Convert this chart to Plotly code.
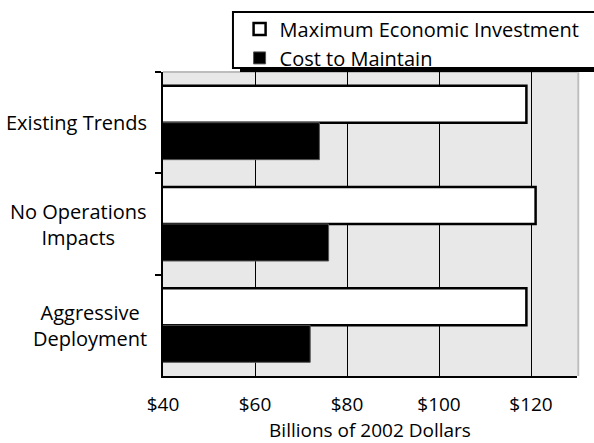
import plotly.graph_objects as go

# Scenario data (billions of 2002 dollars)
categories = ["Existing Trends", "No Operations Impacts", "Aggressive Deployment"]
category_labels = ["Existing Trends", "No Operations<br>Impacts", "Aggressive<br>Deployment"]
max_investment = [119, 121, 119]
cost_to_maintain = [74, 76, 72]
x_ticks = [40, 60, 80, 100, 120]
x_tick_text = ["$40", "$60", "$80", "$100", "$120"]

FONT = "Open Sans"
FS = 20
FS_AXIS = 19

fig = go.Figure()
fig.add_trace(go.Bar(
    y=categories, x=max_investment, orientation="h",
    name="Maximum Economic Investment",
    marker=dict(color="white", line=dict(color="black", width=2.5)),
))
fig.add_trace(go.Bar(
    y=categories, x=cost_to_maintain, orientation="h",
    name="Cost to Maintain",
    marker=dict(color="black", line=dict(color="#555555", width=1)),
))

# centred multi-line category labels
for cat, lab in zip(categories, category_labels):
    fig.add_annotation(
        x=0, xref="paper", y=cat, yref="y", text=lab,
        xanchor="right", yanchor="middle", align="center", xshift=-14,
        showarrow=False, font=dict(family=FONT, size=FS, color="black"),
    )

shapes = [
    # subtle frame on top and right of plot area
    dict(type="line", xref="paper", yref="paper", x0=0, x1=1, y0=1, y1=1,
         line=dict(color="#BDBDBD", width=2), layer="below"),
    dict(type="line", xref="paper", yref="paper", x0=1.003, x1=1.003, y0=0, y1=1,
         line=dict(color="#BDBDBD", width=2), layer="above"),
    # legend box shadow and frame
    dict(type="rect", xref="paper", yref="paper", x0=0.186, x1=1.3, y0=1.0, y1=1.184,
         fillcolor="black", line=dict(width=0), layer="above"),
    dict(type="rect", xref="paper", yref="paper", x0=0.169, x1=1.3, y0=1.013, y1=1.197,
         fillcolor="white", line=dict(color="black", width=2), layer="above"),
]

fig.update_layout(
    width=594, height=443,
    margin=dict(l=163, r=17, t=72, b=67, autoexpand=False),
    paper_bgcolor="white", plot_bgcolor="#E8E8E8",
    barmode="group", bargap=0.27, bargroupgap=0,
    font=dict(family=FONT, size=FS, color="black"),
    showlegend=True,
    legend=dict(
        x=0.185, y=1.206, xanchor="left", yanchor="top",
        bgcolor="rgba(0,0,0,0)", borderwidth=0,
        font=dict(family=FONT, size=FS, color="black"),
        tracegroupgap=0, itemwidth=30,
    ),
    shapes=shapes,
    xaxis=dict(
        range=[40, 130], tickmode="array", tickvals=x_ticks, ticktext=x_tick_text,
        showgrid=True, gridcolor="black", gridwidth=1,
        showline=True, linecolor="black", linewidth=2,
        ticks="", ticklabelstandoff=10, zeroline=False, fixedrange=True,
        title=dict(text="Billions of 2002 Dollars", standoff=3,
                   font=dict(family=FONT, size=FS_AXIS)),
        tickfont=dict(family=FONT, size=FS_AXIS),
    ),
    yaxis=dict(
        categoryorder="array", categoryarray=categories, autorange="reversed",
        showticklabels=False, tickson="boundaries",
        ticks="outside", ticklen=6, tickwidth=1.5, tickcolor="black",
        showline=True, linecolor="black", linewidth=2,
        showgrid=False, zeroline=False,
    ),
)

fig.write_html("out.html")
